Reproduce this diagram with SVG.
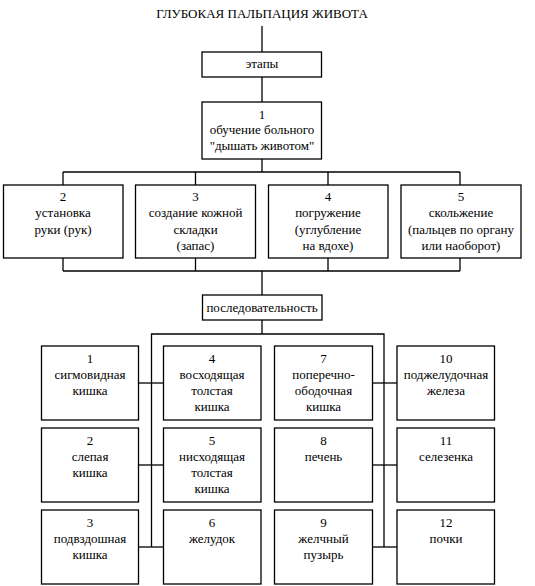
<svg xmlns="http://www.w3.org/2000/svg" width="535" height="586" viewBox="0 0 535 586">
<style>
rect{fill:#fff;stroke:#000;stroke-width:1.3}
.c line,.c polyline{stroke:#000;stroke-width:1.3;fill:none}
svg text, svg g text, svg g text.t{font-family:"Liberation Serif","Times New Roman","DejaVu Serif",serif !important;font-size:13px;fill:#000;text-anchor:middle}
</style>
<rect x="0" y="0" width="535" height="586" style="stroke:none"/>
<text id="title" x="262" y="18">ГЛУБОКАЯ ПАЛЬПАЦИЯ ЖИВОТА</text>
<g class="c" id="connectors">
<line x1="262" y1="26" x2="262" y2="52"/>
<line x1="262" y1="77" x2="262" y2="102"/>
<line x1="262" y1="159" x2="262" y2="172"/>
<line x1="63" y1="172" x2="460" y2="172"/>
<line x1="63" y1="172" x2="63" y2="185"/>
<line x1="195.5" y1="172" x2="195.5" y2="185"/>
<line x1="328" y1="172" x2="328" y2="185"/>
<line x1="460" y1="172" x2="460" y2="185"/>
<line x1="63" y1="258" x2="63" y2="271"/>
<line x1="195.5" y1="258" x2="195.5" y2="271"/>
<line x1="328" y1="258" x2="328" y2="271"/>
<line x1="460" y1="258" x2="460" y2="271"/>
<line x1="63" y1="271" x2="460" y2="271"/>
<line x1="262" y1="271" x2="262" y2="295"/>
<line x1="262" y1="320" x2="262" y2="334"/>
<polyline points="151.5,547 151.5,334 384,334 384,547"/>
<line x1="138" y1="383" x2="163" y2="383"/>
<line x1="138" y1="465" x2="163" y2="465"/>
<line x1="138" y1="547" x2="163" y2="547"/>
<line x1="372" y1="383" x2="397" y2="383"/>
<line x1="372" y1="465" x2="397" y2="465"/>
<line x1="372" y1="547" x2="397" y2="547"/>
</g>
<g id="etapy"><rect x="202" y="52" width="119.5" height="25"/><text class="t" x="262" y="68">этапы</text></g>
<g id="s1"><rect x="202" y="102" width="119.5" height="57"/><text class="t" x="262" y="118.5">1</text><text class="t" x="262" y="134">обучение больного</text><text class="t" x="262" y="150">"дышать животом"</text></g>
<g id="s2"><rect x="3.5" y="185" width="119.5" height="73"/><text class="t" x="63" y="200.5">2</text><text class="t" x="63" y="217">установка</text><text class="t" x="63" y="233.5">руки (рук)</text></g>
<g id="s3"><rect x="135.5" y="185" width="120" height="73"/><text class="t" x="195.5" y="200.5">3</text><text class="t" x="195.5" y="217">создание кожной</text><text class="t" x="195.5" y="233.5">складки</text><text class="t" x="195.5" y="250">(запас)</text></g>
<g id="s4"><rect x="268.5" y="185" width="119.5" height="73"/><text class="t" x="328" y="200.5">4</text><text class="t" x="328" y="217">погружение</text><text class="t" x="328" y="233.5">(углубление</text><text class="t" x="328" y="250">на вдохе)</text></g>
<g id="s5"><rect x="401" y="185" width="120" height="73"/><text class="t" x="461" y="200.5">5</text><text class="t" x="461" y="217">скольжение</text><text class="t" x="461" y="233.5">(пальцев по органу</text><text class="t" x="461" y="250">или наоборот)</text></g>
<g id="posl"><rect x="202.5" y="295" width="119.5" height="25"/><text class="t" x="262" y="312">последовательность</text></g>
<g id="o1"><rect x="41.5" y="346" width="97" height="74"/><text class="t" x="90" y="362.5">1</text><text class="t" x="90" y="378.5">сигмовидная</text><text class="t" x="90" y="394.5">кишка</text></g>
<g id="o2"><rect x="41.5" y="428" width="97" height="74"/><text class="t" x="90" y="444.5">2</text><text class="t" x="90" y="460.5">слепая</text><text class="t" x="90" y="476.5">кишка</text></g>
<g id="o3"><rect x="41.5" y="510" width="97" height="74"/><text class="t" x="90" y="527">3</text><text class="t" x="90" y="543">подвздошная</text><text class="t" x="90" y="559">кишка</text></g>
<g id="o4"><rect x="163.5" y="346" width="97.5" height="74"/><text class="t" x="212" y="362.5">4</text><text class="t" x="212" y="378.5">восходящая</text><text class="t" x="212" y="394.5">толстая</text><text class="t" x="212" y="410.5">кишка</text></g>
<g id="o5"><rect x="163.5" y="428" width="97.5" height="74"/><text class="t" x="212" y="444.5">5</text><text class="t" x="212" y="460.5">нисходящая</text><text class="t" x="212" y="476.5">толстая</text><text class="t" x="212" y="492.5">кишка</text></g>
<g id="o6"><rect x="163.5" y="510" width="97.5" height="74"/><text class="t" x="212" y="527">6</text><text class="t" x="212" y="543">желудок</text></g>
<g id="o7"><rect x="274.5" y="346" width="98" height="74"/><text class="t" x="323.5" y="362.5">7</text><text class="t" x="323.5" y="378.5">поперечно-</text><text class="t" x="323.5" y="394.5">ободочная</text><text class="t" x="323.5" y="410.5">кишка</text></g>
<g id="o8"><rect x="274.5" y="428" width="98" height="74"/><text class="t" x="323.5" y="444.5">8</text><text class="t" x="323.5" y="460.5">печень</text></g>
<g id="o9"><rect x="274.5" y="510" width="98" height="74"/><text class="t" x="323.5" y="527">9</text><text class="t" x="323.5" y="543">желчный</text><text class="t" x="323.5" y="559">пузырь</text></g>
<g id="o10"><rect x="397" y="346" width="97.5" height="74"/><text class="t" x="446" y="362.5">10</text><text class="t" x="446" y="378.5">поджелудочная</text><text class="t" x="446" y="394.5">железа</text></g>
<g id="o11"><rect x="397" y="428" width="97.5" height="74"/><text class="t" x="446" y="444.5">11</text><text class="t" x="446" y="460.5">селезенка</text></g>
<g id="o12"><rect x="397" y="510" width="97.5" height="74"/><text class="t" x="446" y="527">12</text><text class="t" x="446" y="543">почки</text></g>
</svg>
